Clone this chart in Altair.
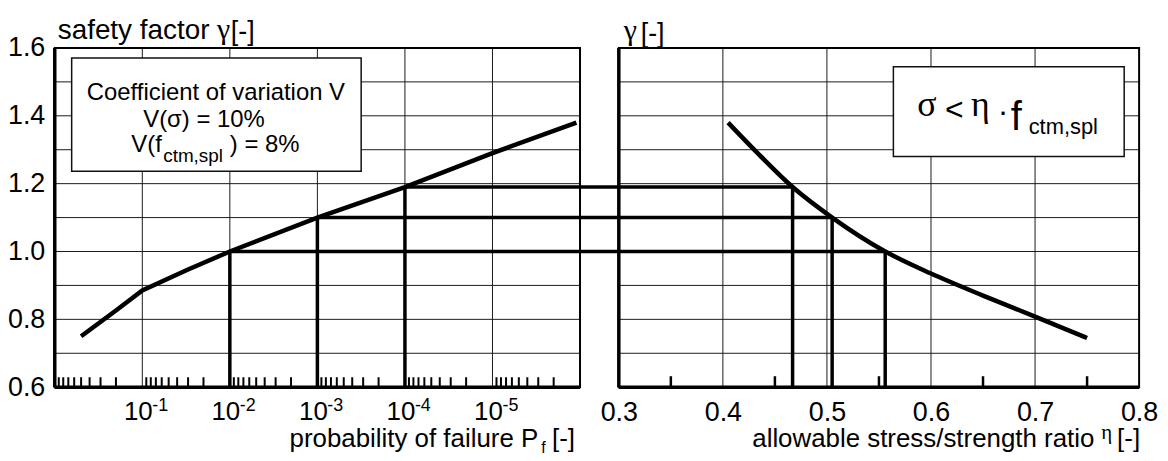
import altair as alt
import pandas as pd

# ---------------- values ----------------
pf_curve = [0.5, 0.2, 0.1, 0.03, 1e-2, 1e-3, 1e-4, 1e-5, 1.1e-6]
gamma_left = [0.75, 0.826, 0.885, 0.947, 1.00, 1.10, 1.19, 1.29, 1.38]
eta_curve = [0.405, 0.435, 0.467, 0.505, 0.556, 0.600, 0.650, 0.700, 0.750]
gamma_right = [1.38, 1.285, 1.19, 1.10, 1.00, 0.935, 0.870, 0.808, 0.745]
read_gamma = [1.00, 1.10, 1.19]
read_pf = [1e-2, 1e-3, 1e-4]
read_eta = [0.556, 0.505, 0.467]

y_labels = [0.6, 0.8, 1.0, 1.2, 1.4, 1.6]
y_grid = [0.7, 0.8, 0.9, 1.0, 1.1, 1.2, 1.3, 1.4, 1.5]
pf_decades = [1e-1, 1e-2, 1e-3, 1e-4, 1e-5]
pf_exponents = ["-1", "-2", "-3", "-4", "-5"]
pf_minor_mult = [2, 3, 4, 5, 6, 7, 8, 9]
pf_minor_base = [1.0, 1e-1, 1e-2, 1e-3, 1e-4, 1e-5]
eta_labels = [0.3, 0.4, 0.5, 0.6, 0.7, 0.8]
eta_grid = [0.4, 0.5, 0.6, 0.7]
eta_minor = [0.35, 0.45, 0.55, 0.65, 0.75]

# ---------------- layout ----------------
FONT = "Liberation Sans"
SERIF = "Liberation Serif"
W, H = 1090, 341
LEFT_W, GAP = 528, 39
RIGHT_W = W - LEFT_W - GAP
PF_HI, PF_LO = 1.0, 1e-6
ETA_LO, ETA_HI = 0.3, 0.8
Y_LO, Y_HI = 0.6, 1.6
px_per_dec = LEFT_W / 6.0
px_per_eta = RIGHT_W / (ETA_HI - ETA_LO)
SL = alt.Scale(type="log", domain=[10 ** (-W / px_per_dec), PF_HI], reverse=True, nice=False)
eta_dom_lo = ETA_LO - (LEFT_W + GAP) / px_per_eta
SR = alt.Scale(type="linear", domain=[eta_dom_lo, ETA_HI], nice=False, zero=False)
ETA_GAP = eta_dom_lo + LEFT_W / px_per_eta
SY = alt.Scale(domain=[Y_LO, Y_HI], nice=False, zero=False)

YAX = alt.Axis(values=y_labels, format=".1f", labelFont=FONT, labelFontSize=27,
               labelColor="black", ticks=False, tickSize=0, domain=False, grid=False,
               labelPadding=10, title=None)
XRAX = alt.Axis(values=eta_labels, format=".1f", labelFont=FONT, labelFontSize=27,
                labelColor="black", ticks=False, tickSize=0, domain=False, grid=False,
                labelPadding=12, title=None, orient="bottom", labelFlush=False,
                labelOverlap=False)


def xl(f):
    return alt.X(f, type="quantitative", scale=SL, axis=None)


def xr(f, axis=None):
    return alt.X(f, type="quantitative", scale=SR, axis=axis)


def ye(f):
    return alt.Y(f, type="quantitative", scale=SY, axis=YAX)


layers = []

# gridlines
hgL = pd.DataFrame({"g": y_grid, "a": PF_HI, "b": PF_LO})
layers.append(alt.Chart(hgL).mark_rule(color="#1a1a1a", strokeWidth=1).encode(
    x=xl("a"), x2="b", y=ye("g")))
vgL = pd.DataFrame({"p": pf_decades, "lo": Y_LO, "hi": Y_HI})
layers.append(alt.Chart(vgL).mark_rule(color="#1a1a1a", strokeWidth=1).encode(
    x=xl("p"), y=ye("lo"), y2="hi"))
hgR = pd.DataFrame({"g": y_grid, "a": ETA_LO, "b": ETA_HI})
layers.append(alt.Chart(hgR).mark_rule(color="#1a1a1a", strokeWidth=1).encode(
    x=xr("a"), x2="b", y=ye("g")))
vgR = pd.DataFrame({"e": eta_grid, "lo": Y_LO, "hi": Y_HI})
layers.append(alt.Chart(vgR).mark_rule(color="#1a1a1a", strokeWidth=1).encode(
    x=xr("e"), y=ye("lo"), y2="hi"))
# right axis labels
axR = pd.DataFrame({"e": eta_labels, "lo": Y_LO})
layers.append(alt.Chart(axR).mark_point(opacity=0).encode(
    x=xr("e", XRAX), y=ye("lo")))

# minor ticks
pf_minor = [m * b / 10 for b in pf_minor_base for m in pf_minor_mult]
layers.append(alt.Chart(pd.DataFrame({"p": pf_minor})).mark_rule(color="black", strokeWidth=2).encode(
    x=xl("p"), y=alt.value(H), y2=alt.value(H - 10)))
layers.append(alt.Chart(pd.DataFrame({"e": eta_minor})).mark_rule(color="black", strokeWidth=2.5).encode(
    x=xr("e"), y=alt.value(H), y2=alt.value(H - 11)))

# frames
frL = pd.DataFrame({"a": [PF_HI], "b": [PF_LO], "lo": [Y_LO], "hi": [Y_HI]})
layers.append(alt.Chart(frL).mark_rect(fill=None, stroke="black", strokeWidth=2).encode(
    x=xl("a"), x2="b", y=ye("lo"), y2="hi"))
layers.append(alt.Chart(frL).mark_rule(color="black", strokeWidth=3.5).encode(
    x=xl("a"), y=ye("lo"), y2="hi"))
layers.append(alt.Chart(frL).mark_rule(color="black", strokeWidth=3.5).encode(
    x=xl("a"), x2="b", y=ye("lo")))
frR = pd.DataFrame({"a": [ETA_LO], "b": [ETA_HI], "lo": [Y_LO], "hi": [Y_HI]})
layers.append(alt.Chart(frR).mark_rect(fill=None, stroke="black", strokeWidth=2).encode(
    x=xr("a"), x2="b", y=ye("lo"), y2="hi"))
layers.append(alt.Chart(frR).mark_rule(color="black", strokeWidth=3.5).encode(
    x=xr("a"), y=ye("lo"), y2="hi"))
layers.append(alt.Chart(frR).mark_rule(color="black", strokeWidth=3.5).encode(
    x=xr("a"), x2="b", y=ye("lo")))

# annotation boxes
box = pd.DataFrame({"k": [0]})
layers.append(alt.Chart(box).mark_rect(fill="white", stroke="#111", strokeWidth=1.5).encode(
    x=alt.value(17), x2=alt.value(308), y=alt.value(10), y2=alt.value(124)))
layers.append(alt.Chart(box).mark_rect(fill="white", stroke="#111", strokeWidth=1.5).encode(
    x=alt.value(843), x2=alt.value(1075), y=alt.value(19), y2=alt.value(109)))

# reading lines
rd = pd.DataFrame({"g": read_gamma, "p": read_pf, "e": read_eta, "lo": Y_LO,
                   "pend": PF_LO, "egap": ETA_GAP})
layers.append(alt.Chart(rd).mark_rule(color="black", strokeWidth=3.5).encode(
    x=xl("p"), y=ye("lo"), y2="g"))
layers.append(alt.Chart(rd).mark_rule(color="black", strokeWidth=3.5).encode(
    x=xl("p"), x2="pend", y=ye("g")))
layers.append(alt.Chart(rd).mark_rule(color="black", strokeWidth=3.5).encode(
    x=xr("egap"), x2="e", y=ye("g")))
layers.append(alt.Chart(rd).mark_rule(color="black", strokeWidth=3.5).encode(
    x=xr("e"), y=ye("lo"), y2="g"))

# curves
cl = pd.DataFrame({"p": pf_curve, "g": gamma_left})
layers.append(alt.Chart(cl).mark_line(color="black", strokeWidth=4.5).encode(
    x=xl("p"), y=ye("g")))
cr = pd.DataFrame({"e": eta_curve, "g": gamma_right})
layers.append(alt.Chart(cr).mark_line(color="black", strokeWidth=4.5, interpolate="monotone").encode(
    x=xr("e"), y=ye("g")))

# left x labels 10^-n
dl = pd.DataFrame({"p": pf_decades, "e": pf_exponents})
layers.append(alt.Chart(dl).mark_text(text="10", font=FONT, fontSize=26, align="center",
                                      baseline="alphabetic", dx=-4, color="black").encode(
    x=xl("p"), y=alt.value(H + 33)))
layers.append(alt.Chart(dl).mark_text(font=FONT, fontSize=18, align="left",
                                      baseline="alphabetic", dx=10, color="black").encode(
    x=xl("p"), y=alt.value(H + 24), text="e:N"))


def txt(s, x, y, size, align="left", font=FONT):
    return alt.Chart(pd.DataFrame({"t": [s]})).mark_text(
        font=font, fontSize=size, align=align, baseline="alphabetic", color="black"
    ).encode(x=alt.value(x), y=alt.value(y), text="t:N")


layers += [
    # top titles
    txt("safety factor", 3, -9, 28),
    txt("\u03b3", 163, -9, 30, font=SERIF),
    txt("[-]", 177, -8, 27),
    txt("\u03b3", 572, -8, 30, font=SERIF),
    txt("[-]", 589, -6, 27),
    # left box
    txt("Coefficient of variation V", 162, 52, 24, "center"),
    txt("V(\u03c3) = 10%", 150, 79, 24, "center"),
    txt("V(f", 77, 105, 24),
    txt("ctm,spl", 109, 115, 19),
    txt(") = 8%", 176, 105, 24),
    # right box
    txt("\u03c3", 867, 68, 36, font=SERIF),
    txt("<", 895, 72, 32),
    txt("\u03b7", 921, 68, 36, font=SERIF),
    txt("\u00b7", 948, 74, 32),
    txt("f", 961, 82, 40),
    txt("ctm,spl", 979, 86, 22),
    # bottom titles
    txt("probability of failure P", 486, 401, 26, "right"),
    txt("f", 489, 407, 16),
    txt("[-]", 523, 401, 26, "right"),
    txt("allowable stress/strength ratio", 1045, 401, 26, "right"),
    txt("\u03b7", 1052, 393, 21, font=SERIF),
    txt("[-]", 1091, 401, 26, "right"),
]

chart = alt.layer(*layers).resolve_scale(x="independent").properties(
    width=W, height=H,
    autosize=alt.AutoSizeParams(type="none"),
    padding={"left": 47, "top": 39, "right": 21, "bottom": 68},
    background="white",
).configure_view(stroke=None)

chart.save("out.html", embed_options={"renderer": "svg", "actions": False})
